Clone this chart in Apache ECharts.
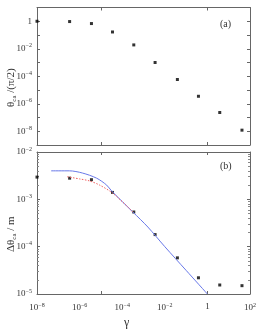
<!DOCTYPE html>
<html><head><meta charset="utf-8">
<script src="https://cdn.jsdelivr.net/npm/echarts@6/dist/echarts.min.js"></script>
<style>html,body{margin:0;padding:0;background:#fff}#c{width:261px;height:336px}</style>
</head><body><div id="c"></div>
<script>
// gamma values of the simulated points
const gammaPts = [1e-8, 3.4e-7, 3.6e-6, 3.5e-5, 3.5e-4, 3.5e-3, 3.9e-2, 0.38, 3.8, 42];
// panel (a): theta_ca/(pi/2)
const thetaA = [1, 0.95, 0.68, 0.166, 0.019, 1.0e-3, 5.8e-5, 3.5e-6, 2.3e-7, 1.2e-8];
// panel (b): delta theta_ca / m
const dThetaB = [2.95e-3, 2.8e-3, 2.6e-3, 1.4e-3, 5.4e-4, 1.8e-4, 5.8e-5, 2.2e-5, 1.55e-5, 1.5e-5];
// blue theory curve
const blueG = [4.6e-8, 3.3e-7, 1.35e-6, 6.3e-6, 1.86e-5, 3.2e-5, 3.16e-4, 1.6e-3, 1e-2, 1e-1, 1];
const blueV = [4.0e-3, 4.0e-3, 3.6e-3, 2.8e-3, 2.0e-3, 1.5e-3, 5.4e-4, 2.6e-4, 1.0e-4, 3.16e-5, 1.0e-5];
// red dotted curve
const redG = [2.6e-7, 1.0e-6, 2.9e-6, 8.7e-6, 3.2e-5, 1.07e-4, 3.16e-4];
const redV = [3.0e-3, 2.7e-3, 2.45e-3, 2.0e-3, 1.4e-3, 8.7e-4, 5.4e-4];
const xTicks = [1e-8, 1e-6, 1e-4, 1e-2, 1, 1e2];

const ff = 'Liberation Serif';
const sup = v => { const e = Math.round(Math.log10(v)); if (e === 0) return '1'; return '10{s|' + String(e).replace('-', '\u2212') + '}'; };
const rich = { s: { fontSize: 6, fontFamily: ff, color: '#333', padding: [0, 0, 6, 0] } };
const lineS = { show: true, lineStyle: { color: '#666', width: 1 } };

function xAx(grid, pos, labels) {
  return {
    type: 'log', logBase: 10, gridIndex: grid, position: pos, min: 1e-8, max: 1e2, interval: 1,
    axisLine: lineS, splitLine: { show: false },
    axisTick: { show: true, inside: true, length: 3, lineStyle: { color: '#666' }, customValues: [1e-5, 1] },
    axisLabel: labels ? { show: true, fontFamily: ff, fontSize: 9, color: '#333', margin: 8, rich: rich,
      customValues: xTicks, formatter: sup } : { show: false }
  };
}
function yAx(grid, pos, min, max, labels, fmt) {
  return {
    type: 'log', logBase: 10, gridIndex: grid, position: pos, min: min, max: max, interval: 1,
    axisLine: lineS, splitLine: { show: false },
    axisTick: { show: true, inside: true, length: 3, lineStyle: { color: '#666' } },
    minorTick: { show: grid === 1, length: 2, splitNumber: 9, lineStyle: { color: '#888' } },
    axisLabel: labels ? { show: true, fontFamily: ff, fontSize: 9, color: '#333', margin: 5, rich: rich, formatter: fmt } : { show: false }
  };
}
const fmtA = v => { const e = Math.round(Math.log10(v)); return (e % 2 === 0) ? sup(v) : ''; };

const pairs = (a, b) => a.map((g, i) => [g, b[i]]);

const opt = {
  animation: false,
  grid: [
    { left: 37, right: 11, top: 7.5, height: 137.5 },
    { left: 37, right: 11, top: 152, height: 142 }
  ],
  xAxis: [xAx(0, 'bottom', false), xAx(0, 'top', false), xAx(1, 'bottom', true), xAx(1, 'top', false)],
  yAxis: [yAx(0, 'left', 1e-9, 10, true, fmtA), yAx(0, 'right', 1e-9, 10, false),
          yAx(1, 'left', 1e-5, 1e-2, true, sup), yAx(1, 'right', 1e-5, 1e-2, false)],
  series: [
    { type: 'scatter', xAxisIndex: 0, yAxisIndex: 0, data: pairs(gammaPts, thetaA), symbol: 'rect', symbolSize: 3, itemStyle: { color: '#000' } },
    { type: 'line', xAxisIndex: 2, yAxisIndex: 2, data: pairs(blueG, blueV), showSymbol: false, smooth: 0.3, lineStyle: { color: '#6878e8', width: 1 }, clip: true },
    { type: 'line', xAxisIndex: 2, yAxisIndex: 2, data: pairs(redG, redV), showSymbol: false, smooth: 0.3, lineStyle: { color: '#f06060', width: 1, type: [1.5, 1.5] } },
    { type: 'scatter', xAxisIndex: 2, yAxisIndex: 2, data: pairs(gammaPts, dThetaB), symbol: 'rect', symbolSize: 3, itemStyle: { color: '#000' } }
  ],
  graphic: [
    { type: 'text', left: 220, top: 19, style: { text: '(a)', font: '10px "Liberation Serif"', fill: '#333' } },
    { type: 'text', left: 220, top: 161, style: { text: '(b)', font: '10px "Liberation Serif"', fill: '#333' } },
    { type: 'text', x: 124, y: 317, style: { text: '\u03b3', font: '12px "Liberation Serif"', fill: '#333' } },
    { type: 'text', x: 5, y: 107, rotation: Math.PI / 2,
      style: { text: '\u03b8{s|ca} /(\u03c0/2)', font: '11px "Liberation Serif"', fill: '#333',
        rich: { s: { fontSize: 7, fontFamily: ff, fill: '#333', padding: [6, 0, 0, 0] } } } },
    { type: 'text', x: 5, y: 252, rotation: Math.PI / 2,
      style: { text: '\u0394\u03b8{s|ca} / m', font: '11px "Liberation Serif"', fill: '#333',
        rich: { s: { fontSize: 7, fontFamily: ff, fill: '#333', padding: [6, 0, 0, 0] } } } }
  ]
};
const ch = echarts.init(document.getElementById('c'), null, { renderer: 'canvas' });
ch.setOption(opt);
</script></body></html>
